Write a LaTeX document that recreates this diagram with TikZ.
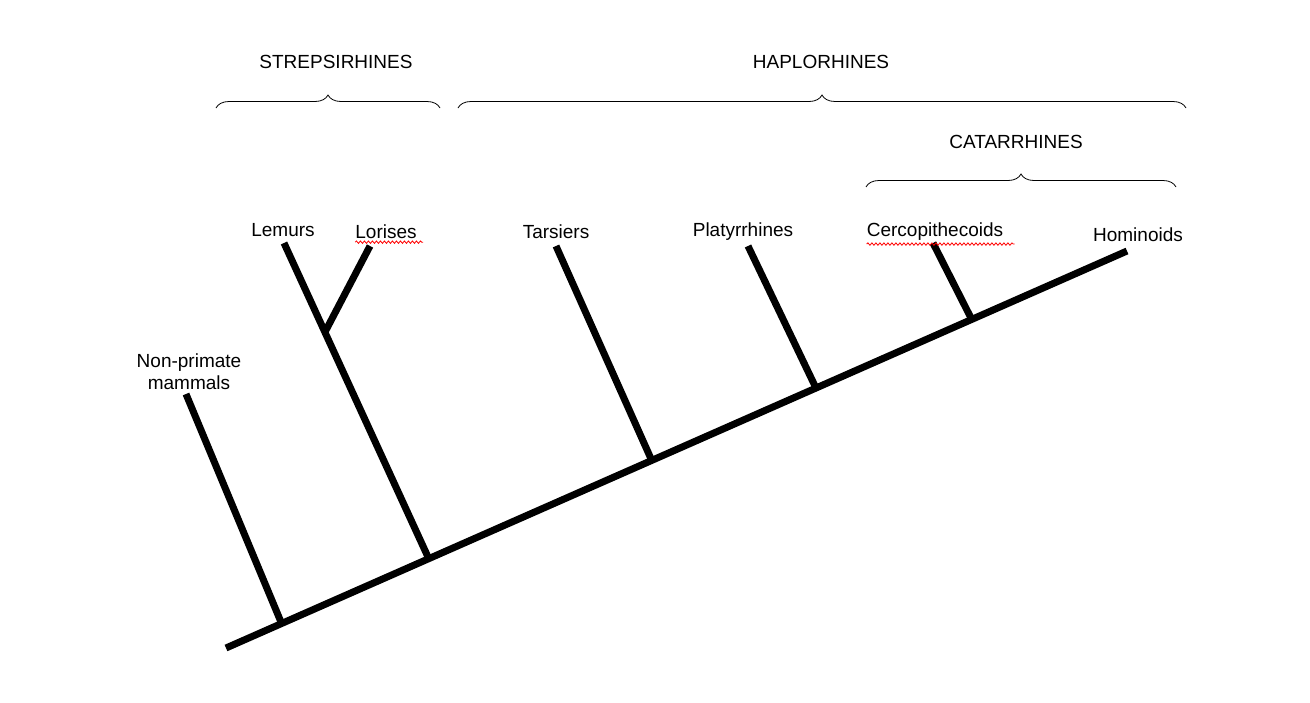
\documentclass[tikz,border=0pt]{standalone}
\usepackage{fontspec}
\setmainfont{Liberation Sans}
\usetikzlibrary{decorations.pathreplacing,decorations.pathmorphing}
\begin{document}
\begin{tikzpicture}[x=1pt,y=-1pt,
  br/.style={thick,decorate,decoration={brace,amplitude=13pt}},
  lbl/.style={font=\fontsize{19}{22}\selectfont,align=center,inner sep=0},
  tr/.style={line width=7pt},
  sp/.style={red,thick,decorate,decoration={snake,amplitude=1.2pt,segment length=4pt}}]
\useasboundingbox (0,0) rectangle (1310,702);
\coordinate (r) at (226,648); \coordinate (e) at (1127,251);
\draw[tr] (r) -- (e);
\coordinate (np) at (186,394); \coordinate (npb) at (281,622);
\coordinate (le) at (284,243); \coordinate (leb) at (428,557);
\coordinate (lo) at (370,246); \coordinate (lob) at (325,332);
\coordinate (ta) at (556,246); \coordinate (tab) at (652,461);
\coordinate (pl) at (748,246); \coordinate (plb) at (815,386);
\coordinate (ce) at (933,243); \coordinate (ceb) at (971,318);
\foreach \a/\b in {np/npb,le/leb,lo/lob,ta/tab,pl/plb,ce/ceb} \draw[tr] (\a) -- (\b);
\node[lbl] (tnp) at (189,372) {Non-primate\\mammals};
\node[lbl] (tle) at (283,230) {Lemurs};
\node[lbl] (tlo) at (386,232) {Lorises};
\node[lbl] (tta) at (556,232) {Tarsiers};
\node[lbl] (tpl) at (743,232) {Platyrrhines};
\node[lbl] (tce) at (935,232) {Cercopithecoids};
\node[lbl] (tho) at (1138,235) {Hominoids};
\draw[sp] (tlo.south west)++(0,3) -- ++(68,0);
\draw[sp] (tce.south west)++(0,3) -- ++(148,0);
\draw[br] (216,108) -- (440,108);
\draw[br] (458,108) -- (1186,108);
\draw[br] (866,187) -- (1176,187);
\node[lbl] (s) at (336,62) {STREPSIRHINES};
\node[lbl] (h) at (821,62) {HAPLORHINES};
\node[lbl] (c) at (1016,142) {CATARRHINES};
\end{tikzpicture}
\end{document}
